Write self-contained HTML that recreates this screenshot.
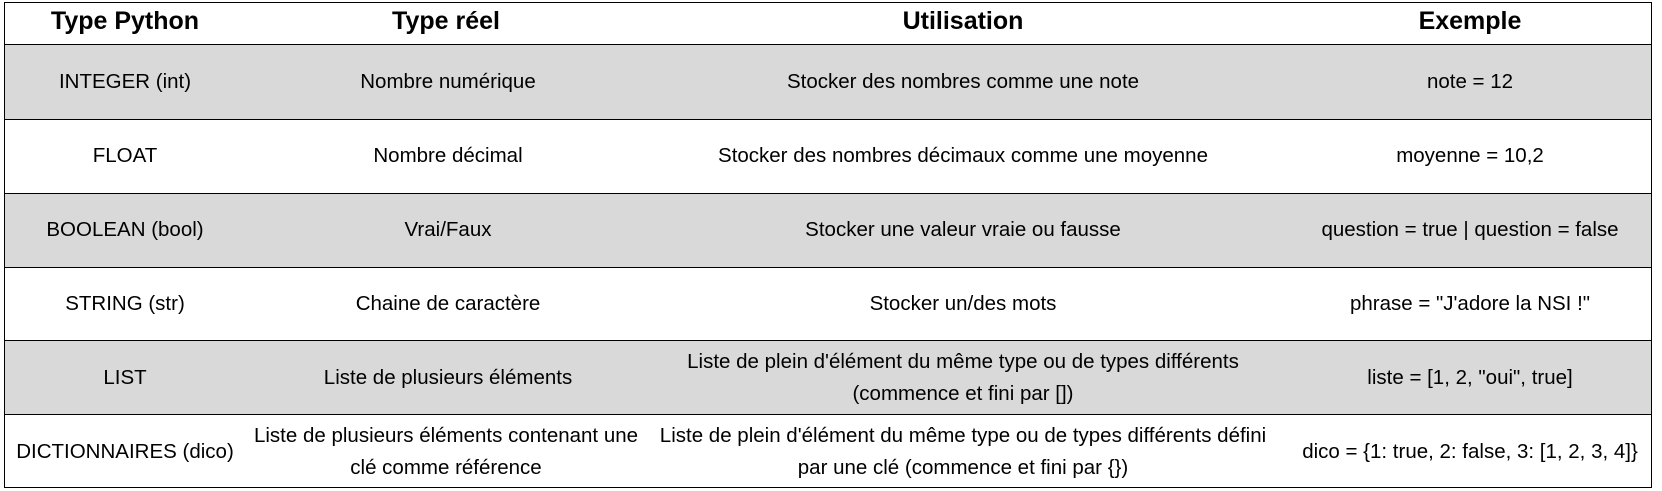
<!DOCTYPE html>
<html><head><meta charset="utf-8"><style>
body{margin:0;width:1662px;height:491px;background:#fff;font-family:"Liberation Sans",sans-serif;color:#000;overflow:hidden;position:relative}
.t{position:absolute;left:4px;top:2px;width:1648px;height:486px;border:1.5px solid #000;box-sizing:border-box}
.r{position:absolute;left:0;width:100%;border-top:1.5px solid #000;box-sizing:border-box}
.g{background:#d9d9d9}
.c{position:absolute;transform:translateX(-50%);text-align:center;font-size:20.5px;line-height:30px;white-space:nowrap}
.h{font-weight:bold;font-size:25px}
.m{line-height:32px}
</style></head><body>
<div class="t">
<div class="r g" style="top:41px;height:75px"></div>
<div class="r" style="top:116px;height:74px"></div>
<div class="r g" style="top:190px;height:74px"></div>
<div class="r" style="top:264px;height:73px"></div>
<div class="r g" style="top:337px;height:74px"></div>
<div class="r" style="top:411px;height:75px"></div>
</div>
<div class="c h" style="left:125px;top:6px">Type Python</div>
<div class="c h" style="left:446px;top:6px">Type réel</div>
<div class="c h" style="left:963px;top:6px">Utilisation</div>
<div class="c h" style="left:1470px;top:6px">Exemple</div>

<div class="c" style="left:125px;top:67px">INTEGER (int)</div>
<div class="c" style="left:448px;top:67px">Nombre numérique</div>
<div class="c" style="left:963px;top:67px">Stocker des nombres comme une note</div>
<div class="c" style="left:1470px;top:67px">note = 12</div>

<div class="c" style="left:125px;top:141px">FLOAT</div>
<div class="c" style="left:448px;top:141px">Nombre décimal</div>
<div class="c" style="left:963px;top:141px">Stocker des nombres décimaux comme une moyenne</div>
<div class="c" style="left:1470px;top:141px">moyenne = 10,2</div>

<div class="c" style="left:125px;top:215px">BOOLEAN (bool)</div>
<div class="c" style="left:448px;top:215px">Vrai/Faux</div>
<div class="c" style="left:963px;top:215px">Stocker une valeur vraie ou fausse</div>
<div class="c" style="left:1470px;top:215px">question = true | question = false</div>

<div class="c" style="left:125px;top:289px">STRING (str)</div>
<div class="c" style="left:448px;top:289px">Chaine de caractère</div>
<div class="c" style="left:963px;top:289px">Stocker un/des mots</div>
<div class="c" style="left:1470px;top:289px">phrase = "J'adore la NSI !"</div>

<div class="c" style="left:125px;top:363px">LIST</div>
<div class="c" style="left:448px;top:363px">Liste de plusieurs éléments</div>
<div class="c m" style="left:963px;top:346px">Liste de plein d'élément du même type ou de types différents<br>(commence et fini par [])</div>
<div class="c" style="left:1470px;top:363px">liste = [1, 2, "oui", true]</div>

<div class="c" style="left:125px;top:437px">DICTIONNAIRES (dico)</div>
<div class="c m" style="left:446px;top:420px">Liste de plusieurs éléments contenant une<br>clé comme référence</div>
<div class="c m" style="left:963px;top:420px">Liste de plein d'élément du même type ou de types différents défini<br>par une clé (commence et fini par {})</div>
<div class="c" style="left:1470px;top:437px">dico = {1: true, 2: false, 3: [1, 2, 3, 4]}</div>
</body></html>
